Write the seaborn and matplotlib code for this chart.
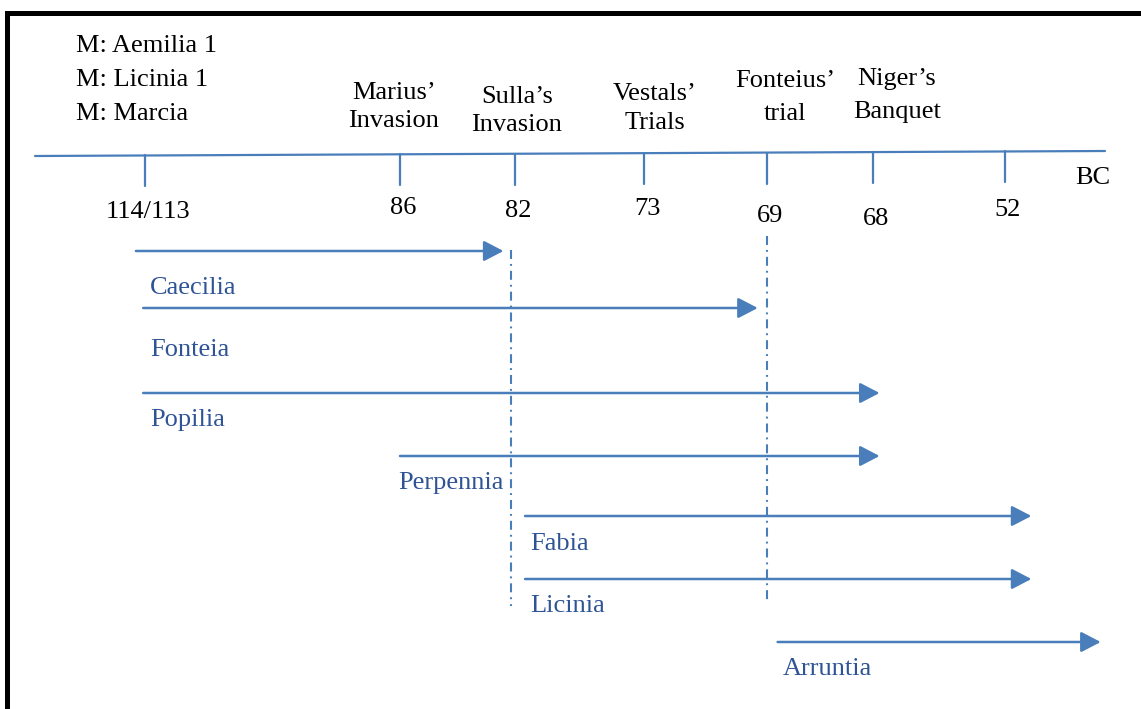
import numpy as np
import pandas as pd
import seaborn as sns
import matplotlib.pyplot as plt
from matplotlib.patches import ArrowStyle

# timeline years and their tick labels
years = [114, 86, 82, 73, 69, 68, 52]
year_labels = ['114/113', '86', '82', '73', '69', '68', '52']
# events written above the timeline
event_names = ['Marius’\nInvasion', 'Sulla’s\nInvasion', 'Vestals’\nTrials',
               'Fonteius’\ntrial', 'Niger’s\nBanquet']
event_years = [86, 82, 73, 69, 68]
# notes in the top left corner
notes = ['M: Aemilia 1', 'M: Licinia 1', 'M: Marcia']
# women and the span of years of each arrow
women = ['Caecilia', 'Fonteia', 'Popilia', 'Perpennia', 'Fabia', 'Licinia', 'Arruntia']
start_year = [115, 114.2, 114.2, 86, 81.3, 81.3, 68.9]
end_year = [82.4, 69.3, 67.2, 67.2, 48.8, 48.8, 40.4]
# dash-dot guides at these years
guide_years = [82, 69]

# ---- layout (pixels of the 1141x709 picture) ----
tick_x = [145, 400, 515, 644, 767, 873, 1005]
tick_label_y = [212, 208, 211, 209, 216, 219, 210]
event_x = [394, 517, 655, 785, 897]
event_y = [107, 111, 108.5, 97.5, 95.5]
event_spacing = [1.38, 1.38, 1.42, 1.62, 1.62]
row_y = [251, 308, 393, 456, 516, 579, 642]
name_x = [150, 150, 150, 398, 530, 530, 783]
name_y = [288, 350, 420, 483, 544, 606, 669]
guide_span = [(250, 606), (236, 600)]
guide_shift = [-4, 0]

line_col = '#4A7EBB'
text_blue = '#2F5496'
serif = 'Liberation Serif'
fs = 19


def year_to_x(y):
    # piecewise linear between ticks, extended past both ends
    ys = -np.array(years, float)
    xs = np.array(tick_x, float)
    v = -np.asarray(y, float)
    out = np.interp(v, ys, xs)
    lo = v < ys[0]
    hi = v > ys[-1]
    out = np.where(lo, xs[0] + (v - ys[0]) * (xs[1] - xs[0]) / (ys[1] - ys[0]), out)
    out = np.where(hi, xs[-1] + (v - ys[-1]) * (xs[-1] - xs[-2]) / (ys[-1] - ys[-2]), out)
    return out


def base_y(x):
    # the timeline is drawn a little sloped
    return 156 - 5 * (np.asarray(x, float) - 35) / 1070


sns.set_theme(style='white')
plt.rcParams['font.family'] = [serif, 'DejaVu Serif']

fig = plt.figure(figsize=(11.41, 7.09), dpi=100)
ax = fig.add_axes([0, 0, 1, 1])
ax.set_xlim(0, 1141)
ax.set_ylim(709, 0)
ax.axis('off')

# frame (left and top)
ax.plot([7, 7, 1141], [709, 13, 13], color='black', lw=3.6, solid_joinstyle='miter')

# main timeline and ticks
xt = year_to_x(years)
base = pd.DataFrame({'x': [35, 1105], 'y': base_y([35, 1105])})
sns.lineplot(data=base, x='x', y='y', color=line_col, lw=1.6, ax=ax, estimator=None, sort=False)
ticks = pd.DataFrame({
    'x': np.repeat(xt, 2),
    'y': np.ravel([[base_y(x), base_y(x) + 31] for x in xt]),
    'u': np.repeat(np.arange(len(xt)), 2),
})
sns.lineplot(data=ticks, x='x', y='y', units='u', estimator=None, color=line_col,
             lw=1.6, ax=ax, sort=False)

for x, lab, ly in zip(xt, year_labels, tick_label_y):
    ax.text(x + 3, ly, lab, ha='center', va='center', fontsize=fs, color='black')
ax.text(1093, 178, 'BC', ha='center', va='center', fontsize=fs, color='black')

for name, x, y, ls in zip(event_names, event_x, event_y, event_spacing):
    ax.text(x, y, name, ha='center', va='center', fontsize=fs, color='black',
            linespacing=ls, multialignment='center')

for i, n in enumerate(notes):
    ax.text(76, 46 + 34 * i, n, ha='left', va='center', fontsize=fs, color='black')

# dash-dot guides
for gy, (y0, y1), sh in zip(guide_years, guide_span, guide_shift):
    gx = year_to_x(gy) + sh
    ax.plot([gx, gx], [y0, y1], color=line_col, lw=1.5, linestyle=(0, (4.3, 2.4, 0.9, 2.4)))

# arrows
style = ArrowStyle('-|>', head_length=0.5, head_width=0.26)
x0s = year_to_x(start_year)
x1s = year_to_x(end_year)
for name, a, b, ry, nx, ny in zip(women, x0s, x1s, row_y, name_x, name_y):
    ax.annotate('', xy=(b, ry), xytext=(a, ry),
                arrowprops=dict(arrowstyle=style, color=line_col, lw=1.8,
                                mutation_scale=24, shrinkA=0, shrinkB=0))
    ax.text(nx, ny, name, ha='left', va='center', fontsize=fs, color=text_blue)

fig.savefig('out.png', dpi=100)
